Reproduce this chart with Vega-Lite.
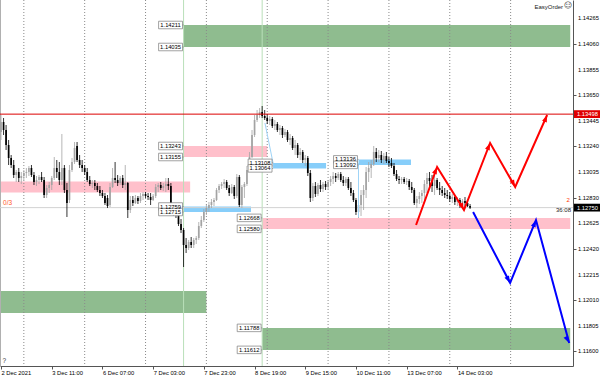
{
"$schema":"https://vega.github.io/schema/vega-lite/v6.json",
"width":573,"height":366,"autosize":"none","padding":{"left":0,"top":0,"right":27,"bottom":10},"background":"#ffffff",
"view":{"stroke":null},
"config":{"axis":{"labelFont":"Liberation Sans","labelFontSize":5.8,"labelColor":"#000000","domainColor":"#555555","tickColor":"#555555","grid":false,"labelOverlap":false},
 "text":{"font":"Liberation Sans"}},
"datasets":{
"candles":[
{"i":0,"o":1.13355,"h":1.13491,"l":1.13291,"c":1.13435},{"i":1,"o":1.13435,"h":1.13467,"l":1.13331,"c":1.13371},{"i":2,"o":1.13371,"h":1.13411,"l":1.13211,"c":1.13251},{"i":3,"o":1.13251,"h":1.13291,"l":1.13091,"c":1.13147},{"i":4,"o":1.13147,"h":1.13171,"l":1.13067,"c":1.13091},{"i":5,"o":1.13091,"h":1.13131,"l":1.12987,"c":1.13011},{"i":6,"o":1.13011,"h":1.13051,"l":1.12955,"c":1.13035},{"i":7,"o":1.13035,"h":1.13067,"l":1.12955,"c":1.12987},{"i":8,"o":1.12987,"h":1.13035,"l":1.12939,"c":1.13003},{"i":9,"o":1.13003,"h":1.13051,"l":1.12971,"c":1.13027},
{"i":10,"o":1.13027,"h":1.13067,"l":1.12987,"c":1.13035},{"i":11,"o":1.13035,"h":1.13083,"l":1.13003,"c":1.13067},{"i":12,"o":1.13067,"h":1.13091,"l":1.12995,"c":1.13011},{"i":13,"o":1.13011,"h":1.13035,"l":1.12931,"c":1.12955},{"i":14,"o":1.12955,"h":1.13003,"l":1.12923,"c":1.12971},{"i":15,"o":1.12971,"h":1.13011,"l":1.12939,"c":1.12995},{"i":16,"o":1.12995,"h":1.13035,"l":1.12955,"c":1.12971},{"i":17,"o":1.12971,"h":1.12995,"l":1.12827,"c":1.12851},{"i":18,"o":1.12851,"h":1.12931,"l":1.12827,"c":1.12907},{"i":19,"o":1.12907,"h":1.12955,"l":1.12867,"c":1.12931},
{"i":20,"o":1.12931,"h":1.13003,"l":1.12891,"c":1.12987},{"i":21,"o":1.12987,"h":1.13155,"l":1.12971,"c":1.13067},{"i":22,"o":1.13067,"h":1.13131,"l":1.12987,"c":1.13035},{"i":23,"o":1.13035,"h":1.13115,"l":1.12931,"c":1.12971},{"i":24,"o":1.12971,"h":1.13339,"l":1.12931,"c":1.13067},{"i":25,"o":1.13067,"h":1.13091,"l":1.12867,"c":1.12891},{"i":26,"o":1.12891,"h":1.12947,"l":1.12675,"c":1.12787},{"i":27,"o":1.12811,"h":1.13091,"l":1.12787,"c":1.13051},{"i":28,"o":1.13051,"h":1.13147,"l":1.13035,"c":1.13115},{"i":29,"o":1.13115,"h":1.13275,"l":1.13099,"c":1.13227},
{"i":30,"o":1.13243,"h":1.13275,"l":1.13115,"c":1.13131},{"i":31,"o":1.13131,"h":1.13171,"l":1.13067,"c":1.13091},{"i":32,"o":1.13091,"h":1.13131,"l":1.13035,"c":1.13067},{"i":33,"o":1.13067,"h":1.13091,"l":1.13011,"c":1.13035},{"i":34,"o":1.13035,"h":1.13067,"l":1.12955,"c":1.12971},{"i":35,"o":1.12971,"h":1.13003,"l":1.12923,"c":1.12939},{"i":36,"o":1.12939,"h":1.12971,"l":1.12907,"c":1.12947},{"i":37,"o":1.12947,"h":1.12971,"l":1.12891,"c":1.12923},{"i":38,"o":1.12923,"h":1.12947,"l":1.12875,"c":1.12891},{"i":39,"o":1.12891,"h":1.12923,"l":1.12843,"c":1.12867},
{"i":40,"o":1.12867,"h":1.12891,"l":1.12827,"c":1.12843},{"i":41,"o":1.12843,"h":1.12867,"l":1.12771,"c":1.12787},{"i":42,"o":1.12827,"h":1.12851,"l":1.12747,"c":1.12763},{"i":43,"o":1.12771,"h":1.12947,"l":1.12755,"c":1.12915},{"i":44,"o":1.12915,"h":1.13067,"l":1.12907,"c":1.12987},{"i":45,"o":1.12987,"h":1.13115,"l":1.12947,"c":1.12971},{"i":46,"o":1.12971,"h":1.13011,"l":1.12923,"c":1.12947},{"i":47,"o":1.12947,"h":1.13003,"l":1.12931,"c":1.12987},{"i":48,"o":1.12987,"h":1.13011,"l":1.12907,"c":1.12931},{"i":49,"o":1.12931,"h":1.13091,"l":1.12891,"c":1.12947},
{"i":50,"o":1.12947,"h":1.12955,"l":1.12667,"c":1.12731},{"i":51,"o":1.12731,"h":1.12843,"l":1.12707,"c":1.12811},{"i":52,"o":1.12811,"h":1.12843,"l":1.12763,"c":1.12787},{"i":53,"o":1.12787,"h":1.12851,"l":1.12779,"c":1.12827},{"i":54,"o":1.12827,"h":1.12843,"l":1.12779,"c":1.12803},{"i":55,"o":1.12803,"h":1.12867,"l":1.12787,"c":1.12843},{"i":56,"o":1.12843,"h":1.12875,"l":1.12811,"c":1.12859},{"i":57,"o":1.12859,"h":1.12875,"l":1.12827,"c":1.12843},{"i":58,"o":1.12843,"h":1.12867,"l":1.12811,"c":1.12835},{"i":59,"o":1.12835,"h":1.12867,"l":1.12771,"c":1.12811},
{"i":60,"o":1.12811,"h":1.12859,"l":1.12803,"c":1.12843},{"i":61,"o":1.12843,"h":1.12939,"l":1.12827,"c":1.12915},{"i":62,"o":1.12915,"h":1.12947,"l":1.12875,"c":1.12931},{"i":63,"o":1.12931,"h":1.12955,"l":1.12891,"c":1.12907},{"i":64,"o":1.12907,"h":1.12947,"l":1.12883,"c":1.12923},{"i":65,"o":1.12923,"h":1.12987,"l":1.12875,"c":1.12939},{"i":66,"o":1.12939,"h":1.12987,"l":1.12891,"c":1.12923},{"i":67,"o":1.12923,"h":1.12947,"l":1.12715,"c":1.12731},{"i":68,"o":1.12731,"h":1.12763,"l":1.12683,"c":1.12707},{"i":69,"o":1.12707,"h":1.12747,"l":1.12667,"c":1.12699},
{"i":70,"o":1.12699,"h":1.12739,"l":1.12603,"c":1.12619},{"i":71,"o":1.12619,"h":1.12659,"l":1.12547,"c":1.12571},{"i":72,"o":1.12571,"h":1.12587,"l":1.12275,"c":1.12451},{"i":73,"o":1.12451,"h":1.12507,"l":1.12387,"c":1.12427},{"i":74,"o":1.12427,"h":1.12491,"l":1.12411,"c":1.12475},{"i":75,"o":1.12475,"h":1.12515,"l":1.12427,"c":1.12451},{"i":76,"o":1.12451,"h":1.12507,"l":1.12427,"c":1.12491},{"i":77,"o":1.12491,"h":1.12523,"l":1.12459,"c":1.12507},{"i":78,"o":1.12507,"h":1.12635,"l":1.12491,"c":1.12603},{"i":79,"o":1.12603,"h":1.12683,"l":1.12587,"c":1.12651},
{"i":80,"o":1.12651,"h":1.12739,"l":1.12635,"c":1.12715},{"i":81,"o":1.12715,"h":1.12771,"l":1.12691,"c":1.12747},{"i":82,"o":1.12747,"h":1.12795,"l":1.12715,"c":1.12771},{"i":83,"o":1.12771,"h":1.12819,"l":1.12747,"c":1.12795},{"i":84,"o":1.12795,"h":1.12827,"l":1.12763,"c":1.12811},{"i":85,"o":1.12811,"h":1.12907,"l":1.12803,"c":1.12891},{"i":86,"o":1.12891,"h":1.12939,"l":1.12867,"c":1.12923},{"i":87,"o":1.12923,"h":1.12955,"l":1.12899,"c":1.12939},{"i":88,"o":1.12939,"h":1.12979,"l":1.12907,"c":1.12955},{"i":89,"o":1.12955,"h":1.12971,"l":1.12891,"c":1.12907},
{"i":90,"o":1.12907,"h":1.12931,"l":1.12843,"c":1.12867},{"i":91,"o":1.12867,"h":1.12939,"l":1.12859,"c":1.12915},{"i":92,"o":1.12915,"h":1.12931,"l":1.12819,"c":1.12843},{"i":93,"o":1.12843,"h":1.13019,"l":1.12827,"c":1.12995},{"i":94,"o":1.12995,"h":1.13011,"l":1.12755,"c":1.12771},{"i":95,"o":1.12771,"h":1.12931,"l":1.12747,"c":1.12915},{"i":96,"o":1.12915,"h":1.12955,"l":1.12827,"c":1.12939},{"i":97,"o":1.12939,"h":1.13083,"l":1.12923,"c":1.13051},{"i":98,"o":1.13051,"h":1.13195,"l":1.13035,"c":1.13155},{"i":99,"o":1.13155,"h":1.13371,"l":1.13147,"c":1.13331},
{"i":100,"o":1.13331,"h":1.13491,"l":1.13315,"c":1.13451},{"i":101,"o":1.13451,"h":1.13531,"l":1.13435,"c":1.13491},{"i":102,"o":1.13491,"h":1.13547,"l":1.13467,"c":1.13515},{"i":103,"o":1.13515,"h":1.13563,"l":1.13467,"c":1.13483},{"i":104,"o":1.13483,"h":1.13531,"l":1.13451,"c":1.13467},{"i":105,"o":1.13467,"h":1.13499,"l":1.13419,"c":1.13443},{"i":106,"o":1.13443,"h":1.13483,"l":1.13411,"c":1.13459},{"i":107,"o":1.13459,"h":1.13475,"l":1.13387,"c":1.13403},{"i":108,"o":1.13403,"h":1.13451,"l":1.13371,"c":1.13419},{"i":109,"o":1.13419,"h":1.13435,"l":1.13355,"c":1.13371},
{"i":110,"o":1.13371,"h":1.13411,"l":1.13331,"c":1.13387},{"i":111,"o":1.13387,"h":1.13403,"l":1.13307,"c":1.13331},{"i":112,"o":1.13331,"h":1.13379,"l":1.13315,"c":1.13355},{"i":113,"o":1.13355,"h":1.13371,"l":1.13275,"c":1.13291},{"i":114,"o":1.13291,"h":1.13339,"l":1.13251,"c":1.13307},{"i":115,"o":1.13307,"h":1.13323,"l":1.13211,"c":1.13227},{"i":116,"o":1.13227,"h":1.13291,"l":1.13171,"c":1.13251},{"i":117,"o":1.13251,"h":1.13267,"l":1.13147,"c":1.13171},{"i":118,"o":1.13171,"h":1.13227,"l":1.13131,"c":1.13195},{"i":119,"o":1.13195,"h":1.13211,"l":1.13107,"c":1.13131},
{"i":120,"o":1.13131,"h":1.13171,"l":1.13083,"c":1.13147},{"i":121,"o":1.13147,"h":1.13163,"l":1.13003,"c":1.13027},{"i":122,"o":1.13027,"h":1.13051,"l":1.12795,"c":1.12827},{"i":123,"o":1.12827,"h":1.12947,"l":1.12803,"c":1.12923},{"i":124,"o":1.12923,"h":1.12955,"l":1.12835,"c":1.12859},{"i":125,"o":1.12859,"h":1.12947,"l":1.12843,"c":1.12931},{"i":126,"o":1.12931,"h":1.12971,"l":1.12875,"c":1.12899},{"i":127,"o":1.12899,"h":1.12955,"l":1.12875,"c":1.12939},{"i":128,"o":1.12939,"h":1.12963,"l":1.12891,"c":1.12915},{"i":129,"o":1.12915,"h":1.12971,"l":1.12899,"c":1.12955},
{"i":130,"o":1.12955,"h":1.13003,"l":1.12923,"c":1.12979},{"i":131,"o":1.12979,"h":1.13035,"l":1.12939,"c":1.13003},{"i":132,"o":1.13003,"h":1.13027,"l":1.12955,"c":1.12987},{"i":133,"o":1.12987,"h":1.13035,"l":1.12971,"c":1.13019},{"i":134,"o":1.13019,"h":1.13035,"l":1.12955,"c":1.12971},{"i":135,"o":1.12971,"h":1.13003,"l":1.12923,"c":1.12947},{"i":136,"o":1.12947,"h":1.12995,"l":1.12923,"c":1.12979},{"i":137,"o":1.12979,"h":1.12995,"l":1.12891,"c":1.12907},{"i":138,"o":1.12907,"h":1.12955,"l":1.12843,"c":1.12867},{"i":139,"o":1.12867,"h":1.12891,"l":1.12795,"c":1.12811},
{"i":140,"o":1.12811,"h":1.12827,"l":1.12691,"c":1.12715},{"i":141,"o":1.12715,"h":1.12811,"l":1.12667,"c":1.12771},{"i":142,"o":1.12771,"h":1.12891,"l":1.12683,"c":1.12851},{"i":143,"o":1.12851,"h":1.12931,"l":1.12731,"c":1.12891},{"i":144,"o":1.12891,"h":1.13075,"l":1.12827,"c":1.13035},{"i":145,"o":1.13035,"h":1.13115,"l":1.12955,"c":1.13067},{"i":146,"o":1.13067,"h":1.13131,"l":1.12987,"c":1.13099},{"i":147,"o":1.13099,"h":1.13243,"l":1.13083,"c":1.13195},{"i":148,"o":1.13195,"h":1.13227,"l":1.13115,"c":1.13147},{"i":149,"o":1.13147,"h":1.13211,"l":1.13115,"c":1.13171},
{"i":150,"o":1.13171,"h":1.13203,"l":1.13107,"c":1.13131},{"i":151,"o":1.13131,"h":1.13187,"l":1.13099,"c":1.13163},{"i":152,"o":1.13163,"h":1.13195,"l":1.13107,"c":1.13123},{"i":153,"o":1.13123,"h":1.13155,"l":1.13075,"c":1.13107},{"i":154,"o":1.13107,"h":1.13147,"l":1.13067,"c":1.13083},{"i":155,"o":1.13083,"h":1.13107,"l":1.13003,"c":1.13019},{"i":156,"o":1.13019,"h":1.13051,"l":1.12963,"c":1.12979},{"i":157,"o":1.12979,"h":1.13003,"l":1.12939,"c":1.12971},{"i":158,"o":1.12971,"h":1.12995,"l":1.12939,"c":1.12979},{"i":159,"o":1.12979,"h":1.12995,"l":1.12939,"c":1.12955},
{"i":160,"o":1.12955,"h":1.12987,"l":1.12931,"c":1.12963},{"i":161,"o":1.12963,"h":1.12979,"l":1.12891,"c":1.12915},{"i":162,"o":1.12915,"h":1.12955,"l":1.12867,"c":1.12891},{"i":163,"o":1.12891,"h":1.12907,"l":1.12771,"c":1.12787},{"i":164,"o":1.12787,"h":1.12843,"l":1.12747,"c":1.12819},{"i":165,"o":1.12819,"h":1.12875,"l":1.12779,"c":1.12843},{"i":166,"o":1.12843,"h":1.12891,"l":1.12787,"c":1.12867},{"i":167,"o":1.12867,"h":1.12971,"l":1.12811,"c":1.12939},{"i":168,"o":1.12939,"h":1.13027,"l":1.12867,"c":1.12987},{"i":169,"o":1.12987,"h":1.13035,"l":1.12923,"c":1.12963},
{"i":170,"o":1.12963,"h":1.13011,"l":1.12875,"c":1.12923},{"i":171,"o":1.12923,"h":1.13003,"l":1.12851,"c":1.12971},{"i":172,"o":1.12971,"h":1.12987,"l":1.12891,"c":1.12907},{"i":173,"o":1.12907,"h":1.12955,"l":1.12851,"c":1.12891},{"i":174,"o":1.12891,"h":1.12923,"l":1.12843,"c":1.12867},{"i":175,"o":1.12867,"h":1.12907,"l":1.12827,"c":1.12851},{"i":176,"o":1.12851,"h":1.12891,"l":1.12819,"c":1.12843},{"i":177,"o":1.12843,"h":1.12875,"l":1.12795,"c":1.12819},{"i":178,"o":1.12819,"h":1.12859,"l":1.12787,"c":1.12835},{"i":179,"o":1.12835,"h":1.12851,"l":1.12771,"c":1.12795},
{"i":180,"o":1.12795,"h":1.12835,"l":1.12763,"c":1.12811},{"i":181,"o":1.12811,"h":1.12827,"l":1.12747,"c":1.12771},{"i":182,"o":1.12771,"h":1.12819,"l":1.12755,"c":1.12803},{"i":183,"o":1.12803,"h":1.12835,"l":1.12747,"c":1.12787},{"i":184,"o":1.12787,"h":1.12811,"l":1.12755,"c":1.12763},{"i":185,"o":1.12763,"h":1.12779,"l":1.12739,"c":1.1275}
],
"zones":[
{"kind":"green","x1":72,"x2":224.5,"p1":1.14211,"p2":1.14035},
{"kind":"green","x1":-0.4,"x2":81,"p1":1.12083,"p2":1.11907},
{"kind":"green","x1":103,"x2":224.5,"p1":1.11788,"p2":1.11612},
{"kind":"pink","x1":-0.4,"x2":74.6,"p1":1.1296,"p2":1.12872},
{"kind":"pink","x1":72,"x2":105,"p1":1.13243,"p2":1.13155},
{"kind":"pink","x1":103,"x2":224.5,"p1":1.12668,"p2":1.1258},
{"kind":"blue","x1":72,"x2":98.6,"p1":1.12759,"p2":1.12715},
{"kind":"blue","x1":107.3,"x2":128.2,"p1":1.13108,"p2":1.13064},
{"kind":"blue","x1":141,"x2":161.7,"p1":1.13136,"p2":1.13092}
],
"tags":[
{"x":72,"p":1.14211},{"x":72,"p":1.14035},{"x":72,"p":1.13243},{"x":72,"p":1.13155},{"x":72,"p":1.12759},{"x":72,"p":1.12715},
{"x":103,"p":1.11788},{"x":103,"p":1.11612},{"x":103,"p":1.12668},{"x":103,"p":1.1258},
{"x":107.3,"p":1.13108},{"x":107.3,"p":1.13064},{"x":141,"p":1.13136},{"x":141,"p":1.13092}
],
"zigzag":[
{"path":"red","k":0,"x":163.7,"p":1.12611,"move":"start"},
{"path":"red","k":1,"x":172.0,"p":1.13075,"move":"up"},
{"path":"red","k":2,"x":182.6,"p":1.12731,"move":"down"},
{"path":"red","k":3,"x":192.9,"p":1.13267,"move":"up"},
{"path":"red","k":4,"x":202.8,"p":1.12915,"move":"down"},
{"path":"red","k":5,"x":215.4,"p":1.13491,"move":"up"},
{"path":"blue","k":0,"x":186.2,"p":1.12715,"move":"start"},
{"path":"blue","k":1,"x":200.8,"p":1.12147,"move":"down"},
{"path":"blue","k":2,"x":211.0,"p":1.12651,"move":"up"},
{"path":"blue","k":3,"x":224.1,"p":1.11667,"move":"down"}
],
"flags":[{"flag":"red","p":1.13498},{"flag":"black","p":1.1275}],
"pricelabels":[{"p":1.116},{"p":1.11805},{"p":1.1201},{"p":1.12215},{"p":1.1242},{"p":1.12625},{"p":1.1283},{"p":1.13035},{"p":1.1324},{"p":1.13445},{"p":1.1365},{"p":1.13855},{"p":1.1406},{"p":1.14265}]
},
"layer":[
{"data":{"name":"zones"},"mark":{"type":"rect"},
 "encoding":{
  "x":{"field":"x1","type":"quantitative","scale":{"domain":[-0.4,225.6],"nice":false,"zero":false},
   "axis":{"orient":"bottom","title":null,"values":[0,20,40,60,80,100,120,140,160,180],
    "labelExpr":"['2 Dec 2021','3 Dec 11:00','6 Dec 07:00','7 Dec 03:00','7 Dec 23:00','8 Dec 19:00','9 Dec 15:00','10 Dec 11:00','13 Dec 07:00','14 Dec 03:00'][round(datum.value/20)]",
    "labelAlign":"left","labelBaseline":"top","tickSize":3,"labelPadding":0,"labelFlush":false,"labelOverlap":false}},
  "x2":{"field":"x2"},
  "y":{"field":"p1","type":"quantitative","scale":{"domain":[1.11483,1.14411],"nice":false,"zero":false},
   "axis":{"orient":"right","title":null,"values":[1.116,1.11805,1.1201,1.12215,1.1242,1.12625,1.1283,1.13035,1.1324,1.13445,1.1365,1.13855,1.1406,1.14265],
    "labels":false,"tickSize":3}},
  "y2":{"field":"p2"},
  "color":{"field":"kind","type":"nominal","scale":{"domain":["green","pink","blue"],"range":["#8fbc8f","#ffc0cb","#87cefa"]},"legend":null}
 }},
{"data":{"values":[{"i":72},{"i":103}]},"mark":{"type":"rule","color":"#b9dfb9","strokeWidth":1},
 "encoding":{"x":{"field":"i","type":"quantitative","title":null}}},
{"data":{"values":[{"i":9},{"i":33},{"i":57},{"i":81},{"i":105},{"i":129},{"i":153},{"i":177},{"i":201}]},
 "mark":{"type":"rule","color":"#8a8a8a","strokeWidth":1,"strokeDash":[1,2]},
 "encoding":{"x":{"field":"i","type":"quantitative","title":null}}},
{"data":{"values":[{"i":-0.4}]},"mark":{"type":"rule","color":"#b0b0b0","strokeWidth":2},"encoding":{"x":{"field":"i","type":"quantitative","title":null}}},
{"data":{"name":"flags"},"transform":[{"filter":"datum.flag == 'black'"}],"mark":{"type":"rule","color":"#d2d2d2","strokeWidth":1},"encoding":{"y":{"field":"p","type":"quantitative","title":null}}},
{"data":{"name":"candles"},"mark":{"type":"rule","strokeWidth":0.8},
 "encoding":{"x":{"field":"i","type":"quantitative","title":null},"y":{"field":"l","type":"quantitative","title":null},"y2":{"field":"h"},
  "color":{"condition":{"test":"datum.c >= datum.o","value":"#a3a3a3"},"value":"#000000"}}},
{"data":{"name":"candles"},"mark":{"type":"rule","strokeWidth":1.7},
 "encoding":{"x":{"field":"i","type":"quantitative","title":null},"y":{"field":"o","type":"quantitative","title":null},"y2":{"field":"c"},
  "color":{"condition":{"test":"datum.c >= datum.o","value":"#a3a3a3"},"value":"#000000"}}},
{"data":{"name":"flags"},"transform":[{"filter":"datum.flag == 'red'"}],"mark":{"type":"rule","color":"#dd0000","strokeWidth":1},"encoding":{"y":{"field":"p","type":"quantitative","title":null}}},
{"data":{"values":[{"x":104.1,"p":1.13427,"x2":107.3,"p2":1.13107},{"x":141,"p":1.13107,"x2":141,"p2":1.12675}]},
 "mark":{"type":"rule","color":"#9fd4f7","strokeWidth":1},
 "encoding":{"x":{"field":"x","type":"quantitative","title":null},"x2":{"field":"x2"},"y":{"field":"p","type":"quantitative","title":null},"y2":{"field":"p2"}}},
{"data":{"name":"tags"},"mark":{"type":"point","shape":"M-1.92,-0.29H-0.08V0.29H-1.92ZM-0.08,0H0","size":676,"filled":true,"fill":"#ffffff","stroke":"#7a7a7a","strokeWidth":0.7,"opacity":1},
 "encoding":{"x":{"field":"x","type":"quantitative","title":null},"y":{"field":"p","type":"quantitative","title":null}}},
{"data":{"name":"tags"},"mark":{"type":"text","align":"center","baseline":"middle","dx":-13,"fontSize":5.8,"color":"#000000"},
 "encoding":{"x":{"field":"x","type":"quantitative","title":null},"y":{"field":"p","type":"quantitative","title":null},"text":{"field":"p","type":"quantitative","format":".5f"}}},
{"data":{"name":"zigzag"},"mark":{"type":"line","strokeWidth":2},
 "encoding":{"x":{"field":"x","type":"quantitative","title":null},"y":{"field":"p","type":"quantitative","title":null},
  "order":{"field":"k","type":"quantitative"},"detail":{"field":"path"},
  "color":{"condition":{"test":"datum.path == 'red'","value":"#ff0000"},"value":"#0000ff"}}},
{"data":{"name":"zigzag"},"transform":[{"filter":"datum.move != 'start'"}],
 "mark":{"type":"point","shape":"M0,0L-0.42,1.2L0.42,1.2Z","size":144,"filled":true,"opacity":1},
 "encoding":{"x":{"field":"x","type":"quantitative","title":null},"y":{"field":"p","type":"quantitative","title":null},
  "color":{"condition":{"test":"datum.path == 'red'","value":"#ff0000"},"value":"#0000ff"},
  "angle":{"condition":{"test":"datum.move == 'up'","value":22},"value":152}}},
{"data":{"name":"pricelabels"},
 "mark":{"type":"text","align":"left","baseline":"middle","dx":4,"fontSize":5.8,"color":"#000000"},
 "encoding":{"x":{"datum":226,"type":"quantitative","title":null},"y":{"field":"p","type":"quantitative","title":null},"text":{"field":"p","type":"quantitative","format":".5f"}}},
{"data":{"name":"flags"},
 "mark":{"type":"point","shape":"M0,-0.3H2V0.3H0Z","size":676,"filled":true,"opacity":1,"strokeWidth":0},
 "encoding":{"x":{"datum":226,"type":"quantitative","title":null},"y":{"field":"p","type":"quantitative","title":null},
  "fill":{"condition":{"test":"datum.flag == 'red'","value":"#e00000"},"value":"#000000"}}},
{"data":{"name":"flags"},
 "mark":{"type":"text","align":"left","baseline":"middle","dx":3,"fontSize":5.8,"color":"#ffffff"},
 "encoding":{"x":{"datum":226,"type":"quantitative","title":null},"y":{"field":"p","type":"quantitative","title":null},"text":{"field":"p","type":"quantitative","format":".5f"}}},
{"data":{"values":[{"x":0.8,"p":1.12791,"t":"0/3"},{"x":0.6,"p":1.11523,"t":"?"}]},
 "mark":{"type":"text","align":"left","baseline":"middle","fontSize":6.5},
 "encoding":{"x":{"field":"x","type":"quantitative","title":null},"y":{"field":"p","type":"quantitative","title":null},"text":{"field":"t"},
  "color":{"condition":{"test":"datum.t == '0/3'","value":"#ff5a2a"},"value":"#333333"}}},
{"data":{"values":[{"x":224.4,"p":1.12811,"t":"2"},{"x":224.8,"p":1.12731,"t":"36:08"},{"x":221.7,"p":1.14355,"t":"EasyOrder"}]},
 "mark":{"type":"text","align":"right","baseline":"middle","fontSize":6},
 "encoding":{"x":{"field":"x","type":"quantitative","title":null},"y":{"field":"p","type":"quantitative","title":null},"text":{"field":"t"},
  "color":{"condition":{"test":"datum.t == '2'","value":"#ff3c00"},"value":"#222222"}}},
{"data":{"values":[{"x":223.7,"p":1.14363,"t":"☺"}]},
 "mark":{"type":"text","align":"center","baseline":"middle","fontSize":8,"font":"DejaVu Sans","color":"#444444"},
 "encoding":{"x":{"field":"x","type":"quantitative","title":null},"y":{"field":"p","type":"quantitative","title":null},"text":{"field":"t"}}}
]
}
